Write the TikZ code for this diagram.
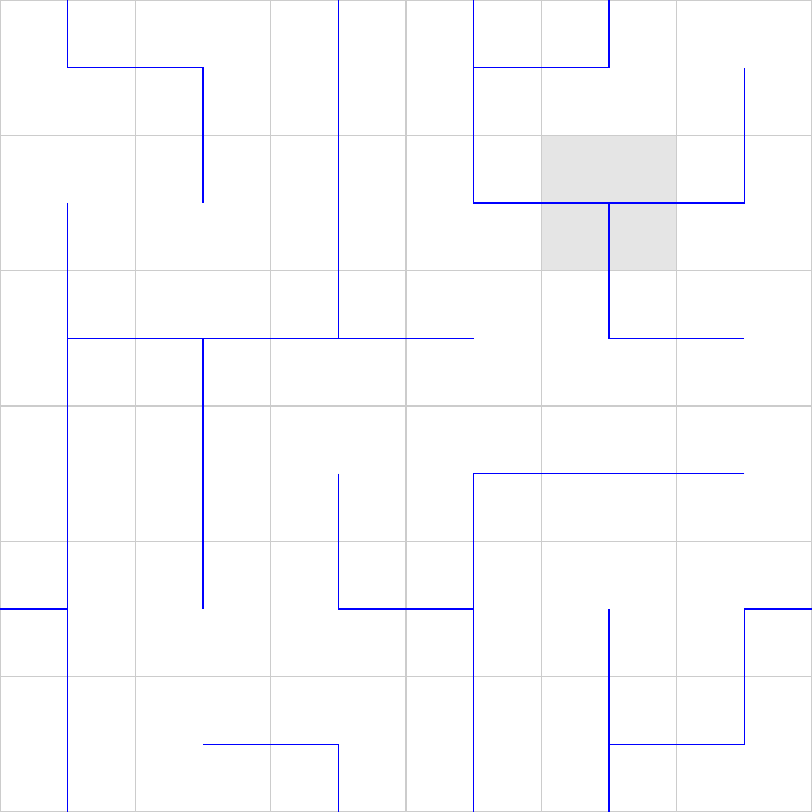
\documentclass[tikz,border=0pt]{standalone}
\usepackage{tikz}
\tikzstyle{every path}=[line cap=butt,line join=miter]
\tikzstyle{gridline}=[draw=gray!40,line width=0.45pt]
\tikzstyle{wall}=[draw=blue,line width=0.45pt]
\tikzstyle{mark cell}=[fill=gray!20]

\begin{document}
\begin{tikzpicture}
% Maze on a 6x6 board, walls on the half steps
	\newcommand\boardsize{12} %side of the board
	\newcommand\cellsize{2} %side of a cell
	\useasboundingbox (0,0) rectangle (\boardsize,\boardsize);
	\fill[mark cell] (8,8) rectangle (10,10); %% shaded block
	\draw[gridline] (0,0) grid[step=\cellsize] (\boardsize,\boardsize);
	%% walls, left part
	\draw[wall] (1,12) -- (1,11) -- (3,11) -- (3,9);
	\draw[wall] (1,9) -- (1,0);
	\draw[wall] (5,12) -- (5,7);
	\draw[wall] (1,7) -- (7,7);
	\draw[wall] (3,7) -- (3,3);
	\draw[wall] (0,3) -- (1,3);
	\draw[wall] (5,5) -- (5,3) -- (7,3);
	\draw[wall] (3,1) -- (5,1) -- (5,0);
	%% walls, right part
	\draw[wall] (7,12) -- (7,9) -- (11,9) -- (11,11);
	\draw[wall] (7,11) -- (9,11) -- (9,12);
	\draw[wall] (9,9) -- (9,7) -- (11,7);
	\draw[wall] (11,5) -- (7,5) -- (7,0);
	\draw[wall] (9,3) -- (9,0);
	\draw[wall] (9,1) -- (11,1) -- (11,3) -- (12,3);
\end{tikzpicture}
\end{document}
